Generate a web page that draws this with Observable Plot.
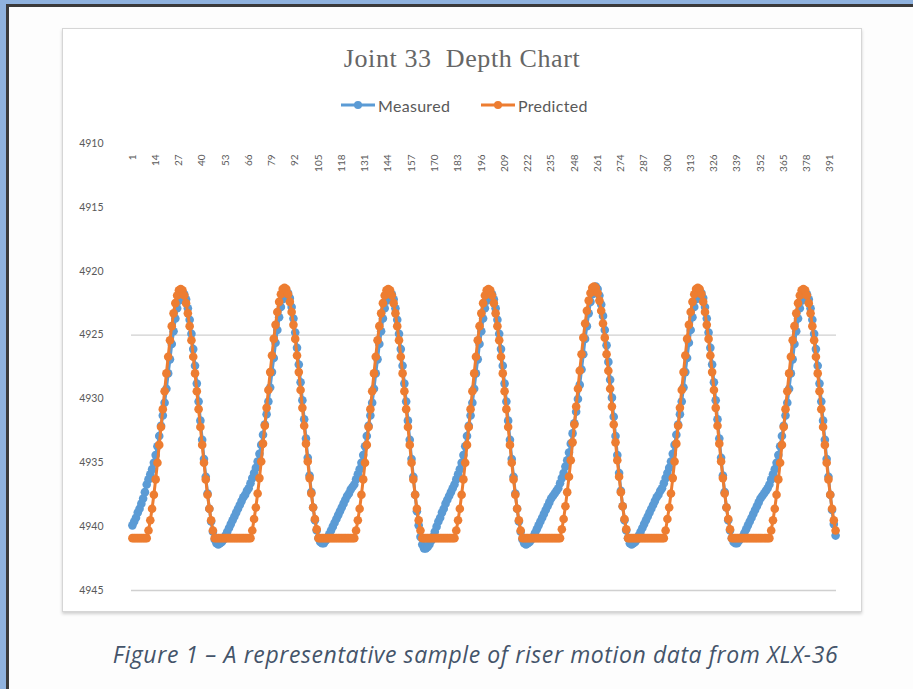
<!DOCTYPE html>
<html>
<head>
<meta charset="utf-8">
<script src="https://cdn.jsdelivr.net/npm/d3@7"></script>
<script src="https://cdn.jsdelivr.net/npm/@observablehq/plot@0.6"></script>
<style>
  html, body { margin: 0; padding: 0; }
  body { width: 913px; height: 689px; position: relative; overflow: hidden; background: #fdfdfd; font-family: Lato, "Open Sans", sans-serif; }
  .edge { position: absolute; }
  #box { position: absolute; left: 62px; top: 28px; width: 798px; height: 582px; background: #fff; border: 1px solid #d6d6d6; box-shadow: 0 2px 3px rgba(0,0,0,0.18); }
  #title { position: absolute; left: 62px; width: 800px; top: 44px; text-align: center; font-size: 26px; color: #666666; white-space: pre; font-family: "Liberation Serif", serif; letter-spacing: 0.6px; }
  #legend { position: absolute; top: 95px; left: 0; width: 913px; height: 20px; }
  .lg { position: absolute; top: 0; display: flex; align-items: center; font-size: 16px; color: #595959; letter-spacing: 0.3px; }
  #chart { position: absolute; left: 0; top: 125px; }
  #caption { position: absolute; top: 638px; left: 19px; width: 913px; text-align: center; font-style: italic; font-size: 23px; color: #44546a; font-family: "Open Sans", sans-serif; letter-spacing: 0.6px; white-space: nowrap; }
</style>
</head>
<body>
<div class="edge" style="left:0;top:0;width:913px;height:4px;background:#8fb2de"></div>
<div class="edge" style="left:0;top:0;width:6px;height:689px;background:#8fb2de"></div>
<div class="edge" style="left:6px;top:4px;width:907px;height:3px;background:#3a3a3a"></div>
<div class="edge" style="left:6px;top:4px;width:3px;height:685px;background:#3a3a3a"></div>
<div id="box"></div>
<div id="title">Joint 33  Depth Chart</div>
<div id="legend"></div>
<div id="chart"></div>
<div id="caption">Figure 1 – A representative sample of riser motion data from XLX-36</div>
<script>
const seriesNames = ["Measured", "Predicted"];
const seriesColors = ["#5b9bd5", "#ed7d31"];
const xTickLabels = [1,14,27,40,53,66,79,92,105,118,131,144,157,170,183,196,209,222,235,248,261,274,287,300,313,326,339,352,365,378,391];
const yTicks = [4910,4915,4920,4925,4930,4935,4940,4945];
const gridValues = [4925,4945];

const measured = [
  4939.9,4939.6,4939.3,4938.9,4938.6,4938.2,4937.8,4937.3,
  4936.7,4936.3,4935.9,4935.5,4935.0,4934.4,4933.7,4932.9,4932.1,4931.3,4930.3,4929.2,4928.0,4926.9,4925.7,4924.7,4923.7,4922.9,4922.3,4921.9,
  4921.7,4921.8,4922.2,4922.9,4923.8,4924.9,4926.1,4927.4,4928.8,4930.2,4931.7,4933.2,4934.7,4936.1,4937.4,4938.6,4939.6,4940.4,4941.0,4941.3,4941.4,4941.3,4941.2,4941.0,
  4940.7,4940.4,4940.1,4939.8,4939.5,4939.2,4938.9,4938.6,4938.3,4938.0,4937.7,4937.5,4937.2,4937.0,
  4936.6,4936.2,4935.8,4935.4,4934.9,4934.3,4933.6,4932.8,4932.0,4931.2,4930.2,4929.1,4927.9,4926.8,4925.6,4924.6,4923.6,4922.8,4922.2,4921.8,
  4921.6,4921.7,4922.1,4922.8,4923.7,4924.8,4926.0,4927.3,4928.7,4930.1,4931.6,4933.1,4934.6,4936.0,4937.3,4938.5,4939.5,4940.3,4940.9,4941.2,4941.3,4941.3,4941.1,4940.9,
  4940.6,4940.3,4940.0,4939.7,4939.4,4939.1,4938.8,4938.5,4938.2,4937.9,4937.6,4937.4,4937.1,4936.9,
  4936.7,4936.3,4935.9,4935.5,4935.0,4934.4,4933.7,4932.9,4932.1,4931.3,4930.3,4929.2,4928.0,4926.9,4925.7,4924.7,4923.7,4922.9,4922.3,4921.9,
  4921.7,4921.8,4922.2,4922.9,4923.8,4924.9,4926.1,4927.4,4928.8,4930.2,4931.7,4933.2,4934.7,4936.1,4937.5,4938.8,4939.9,4940.8,4941.4,4941.7,4941.7,4941.6,4941.4,4941.1,
  4940.8,4940.4,4940.0,4939.6,4939.3,4938.9,4938.6,4938.2,4937.9,4937.6,4937.3,4937.0,
  4936.7,4936.3,4935.9,4935.5,4935.0,4934.4,4933.7,4932.9,4932.1,4931.3,4930.3,4929.2,4928.0,4926.9,4925.7,4924.7,4923.7,4922.9,4922.3,4921.9,
  4921.7,4921.8,4922.2,4922.9,4923.8,4924.9,4926.1,4927.4,4928.8,4930.2,4931.7,4933.2,4934.7,4936.1,4937.4,4938.6,4939.6,4940.4,4941.0,4941.3,4941.4,4941.3,4941.2,4941.0,
  4940.8,4940.5,4940.2,4939.9,4939.6,4939.3,4939.0,4938.7,4938.4,4938.1,4937.8,4937.6,4937.4,4937.2,4937.0,
  4936.6,4936.2,4935.8,4935.3,4934.8,4934.2,4933.5,4932.7,4931.9,4931.0,4930.0,4928.9,4927.7,4926.5,4925.3,4924.3,4923.3,4922.4,4921.8,4921.4,
  4921.2,4921.4,4921.9,4922.6,4923.5,4924.6,4925.8,4927.1,4928.5,4929.9,4931.4,4932.9,4934.4,4935.8,4937.2,4938.4,4939.5,4940.3,4940.9,4941.3,4941.4,4941.3,4941.2,4941.0,
  4940.7,4940.4,4940.1,4939.8,4939.5,4939.2,4938.9,4938.6,4938.3,4938.0,4937.7,4937.5,4937.2,4937.0,
  4936.6,4936.2,4935.8,4935.4,4934.9,4934.3,4933.6,4932.8,4932.0,4931.2,4930.2,4929.1,4927.9,4926.8,4925.6,4924.6,4923.6,4922.8,4922.2,4921.8,
  4921.6,4921.7,4922.1,4922.8,4923.7,4924.8,4926.0,4927.3,4928.7,4930.1,4931.6,4933.1,4934.6,4936.0,4937.3,4938.5,4939.5,4940.3,4940.9,4941.2,4941.3,4941.3,4941.1,4940.9,
  4940.8,4940.5,4940.2,4939.9,4939.6,4939.3,4939.0,4938.7,4938.4,4938.1,4937.8,4937.6,4937.4,4937.2,4937.0,
  4936.7,4936.3,4935.9,4935.5,4935.0,4934.4,4933.7,4932.9,4932.1,4931.3,4930.3,4929.2,4928.0,4926.9,4925.7,4924.7,4923.7,4922.9,4922.3,4921.9,
  4921.7,4921.8,4922.2,4922.9,4923.8,4924.9,4926.1,4927.4,4928.8,4930.2,4931.7,4933.2,4934.7,4936.1,4937.5,4938.7,4939.8,4940.7
];

const predicted = [
  4940.9,4940.9,4940.9,4940.9,4940.9,4940.9,4940.9,4940.9,
  4940.9,4940.3,4939.5,4938.6,4937.5,4936.3,4935.0,4933.6,4932.2,4930.8,4929.4,4928.0,4926.7,4925.4,4924.3,4923.3,4922.5,4921.9,4921.5,4921.4,
  4921.5,4921.9,4922.5,4923.3,4924.3,4925.4,4926.7,4928.0,4929.4,4930.8,4932.2,4933.6,4935.0,4936.3,4937.5,4938.6,4939.5,4940.3,4940.9,
  4940.9,4940.9,4940.9,4940.9,4940.9,4940.9,4940.9,4940.9,4940.9,4940.9,4940.9,4940.9,4940.9,4940.9,4940.9,4940.9,4940.9,4940.9,4940.9,
  4940.9,4940.3,4939.4,4938.5,4937.4,4936.2,4934.9,4933.5,4932.1,4930.7,4929.3,4927.9,4926.6,4925.3,4924.2,4923.2,4922.4,4921.8,4921.4,4921.3,
  4921.4,4921.8,4922.4,4923.2,4924.2,4925.3,4926.6,4927.9,4929.3,4930.7,4932.1,4933.5,4934.9,4936.2,4937.4,4938.5,4939.4,4940.2,4940.9,
  4940.9,4940.9,4940.9,4940.9,4940.9,4940.9,4940.9,4940.9,4940.9,4940.9,4940.9,4940.9,4940.9,4940.9,4940.9,4940.9,4940.9,4940.9,4940.9,
  4940.9,4940.3,4939.5,4938.6,4937.5,4936.3,4935.0,4933.6,4932.2,4930.8,4929.4,4928.0,4926.7,4925.4,4924.3,4923.3,4922.5,4921.9,4921.5,4921.4,
  4921.5,4921.9,4922.5,4923.3,4924.3,4925.4,4926.7,4928.0,4929.4,4930.8,4932.2,4933.6,4935.0,4936.3,4937.5,4938.6,4939.5,4940.3,4940.9,
  4940.9,4940.9,4940.9,4940.9,4940.9,4940.9,4940.9,4940.9,4940.9,4940.9,4940.9,4940.9,4940.9,4940.9,4940.9,4940.9,4940.9,
  4940.9,4940.3,4939.5,4938.6,4937.5,4936.3,4935.0,4933.6,4932.2,4930.8,4929.4,4928.0,4926.7,4925.4,4924.3,4923.3,4922.5,4921.9,4921.5,4921.4,
  4921.5,4921.9,4922.5,4923.3,4924.3,4925.4,4926.7,4928.0,4929.4,4930.8,4932.2,4933.6,4935.0,4936.3,4937.5,4938.6,4939.5,4940.3,4940.9,
  4940.9,4940.9,4940.9,4940.9,4940.9,4940.9,4940.9,4940.9,4940.9,4940.9,4940.9,4940.9,4940.9,4940.9,4940.9,4940.9,4940.9,4940.9,4940.9,4940.9,
  4940.9,4940.2,4939.4,4938.4,4937.3,4936.1,4934.8,4933.4,4932.0,4930.6,4929.2,4927.8,4926.5,4925.2,4924.1,4923.1,4922.3,4921.7,4921.3,4921.2,
  4921.3,4921.7,4922.3,4923.1,4924.1,4925.2,4926.5,4927.8,4929.2,4930.6,4932.0,4933.4,4934.8,4936.1,4937.3,4938.4,4939.4,4940.2,4940.9,
  4940.9,4940.9,4940.9,4940.9,4940.9,4940.9,4940.9,4940.9,4940.9,4940.9,4940.9,4940.9,4940.9,4940.9,4940.9,4940.9,4940.9,4940.9,4940.9,
  4940.9,4940.3,4939.4,4938.5,4937.4,4936.2,4934.9,4933.5,4932.1,4930.7,4929.3,4927.9,4926.6,4925.3,4924.2,4923.2,4922.4,4921.8,4921.4,4921.3,
  4921.4,4921.8,4922.4,4923.2,4924.2,4925.3,4926.6,4927.9,4929.3,4930.7,4932.1,4933.5,4934.9,4936.2,4937.4,4938.5,4939.4,4940.2,4940.9,
  4940.9,4940.9,4940.9,4940.9,4940.9,4940.9,4940.9,4940.9,4940.9,4940.9,4940.9,4940.9,4940.9,4940.9,4940.9,4940.9,4940.9,4940.9,4940.9,4940.9,
  4940.9,4940.3,4939.5,4938.6,4937.5,4936.3,4935.0,4933.6,4932.2,4930.8,4929.4,4928.0,4926.7,4925.4,4924.3,4923.3,4922.5,4921.9,4921.5,4921.4,
  4921.5,4921.9,4922.5,4923.3,4924.3,4925.4,4926.7,4928.0,4929.4,4930.8,4932.2,4933.6,4935.0,4936.3,4937.5,4938.6,4939.5,4940.3
];

const rowsFor = (name, arr) => arr.map((v, i) => ({series: name, idx: i + 1, depth: v}));
const measuredRows = rowsFor(seriesNames[0], measured);
const predictedRows = rowsFor(seriesNames[1], predicted);

const plot = Plot.plot({
  width: 913,
  height: 480,
  marginLeft: 131,
  marginRight: 77,
  marginTop: 18,
  marginBottom: 15,
  style: {fontFamily: "Lato, sans-serif", color: "#595959", background: "transparent"},
  x: {domain: [0.5, 394.5], axis: null},
  y: {domain: [4910, 4945], reverse: true, axis: null},
  marks: [
    Plot.ruleY(gridValues, {stroke: "#d0d0d0", strokeWidth: 1.3}),
    Plot.axisY(yTicks, {tickSize: 0, tickPadding: 28, fontSize: 10.5, fill: "#595959", label: null, tickFormat: d => String(d)}),
    Plot.text(xTickLabels, {x: d => d, y: 4910, text: d => String(d), rotate: -90, textAnchor: "end", dy: 11, fontSize: 10, fill: "#595959"}),
    Plot.line(measuredRows, {x: "idx", y: "depth", stroke: seriesColors[0], strokeWidth: 3}),
    Plot.dot(measuredRows, {x: "idx", y: "depth", fill: seriesColors[0], r: 4.3}),
    Plot.line(predictedRows, {x: "idx", y: "depth", stroke: seriesColors[1], strokeWidth: 3}),
    Plot.dot(predictedRows, {x: "idx", y: "depth", fill: seriesColors[1], r: 4.3})
  ]
});
document.getElementById("chart").appendChild(plot);

// legend
const legend = document.getElementById("legend");
const legendPos = [340, 480];
seriesNames.forEach((name, k) => {
  const item = document.createElement("div");
  item.className = "lg";
  item.style.left = legendPos[k] + "px";
  const c = seriesColors[k];
  item.innerHTML = `<svg width="36" height="20"><line x1="1" y1="10" x2="35" y2="10" stroke="${c}" stroke-width="3"/><circle cx="18" cy="10" r="4" fill="${c}"/></svg><span style="margin-left:2px">${name}</span>`;
  legend.appendChild(item);
});
</script>
</body>
</html>
